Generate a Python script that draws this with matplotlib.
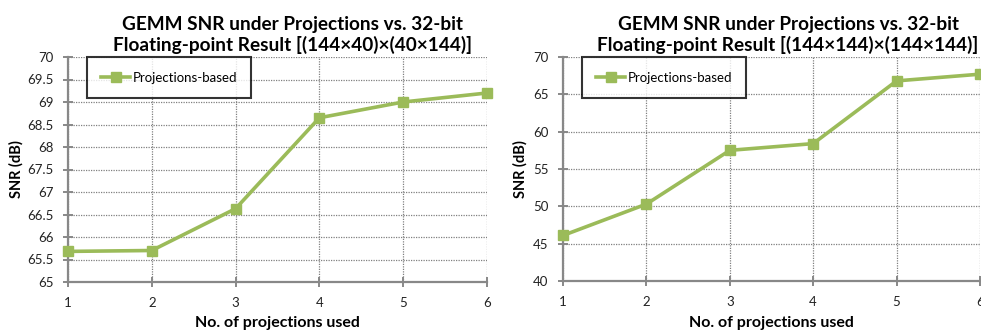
import matplotlib.pyplot as plt

plt.rcParams['font.family'] = ['Lato', 'DejaVu Sans']

projections = [1, 2, 3, 4, 5, 6]
snr_small = [65.68, 65.70, 66.63, 68.65, 69.0, 69.2]
snr_large = [46.1, 50.3, 57.5, 58.4, 66.8, 67.7]

titles = ["GEMM SNR under Projections vs. 32-bit\nFloating-point Result [(144×40)×(40×144)]",
          "GEMM SNR under Projections vs. 32-bit\nFloating-point Result [(144×144)×(144×144)]"]
green = "#9BBB59"

fig = plt.figure(figsize=(9.81, 3.31), dpi=100)
ax1 = fig.add_axes([68 / 981, 1 - 282 / 331, 419 / 981, 225 / 331])
ax2 = fig.add_axes([563 / 981, 1 - 281 / 331, 417 / 981, 224 / 331])

setups = [
    (ax1, snr_small, (65, 70), [65, 65.5, 66, 66.5, 67, 67.5, 68, 68.5, 69, 69.5, 70],
     ["65", "65.5", "66", "66.5", "67", "67.5", "68", "68.5", "69", "69.5", "70"],
     titles[0], 0.535, -0.107, -0.151),
    (ax2, snr_large, (40, 70), [40, 45, 50, 55, 60, 65, 70],
     ["40", "45", "50", "55", "60", "65", "70"], titles[1], 0.54, -0.084, -0.156),
]

for ax, vals, ylim, yt, ytl, title, tx, ylx, xly in setups:
    ax.plot(projections, vals, color=green, lw=2.6, marker="s", ms=7.5,
            label="Projections-based", clip_on=False, zorder=3)
    ax.set_xlim(1, 6)
    ax.set_ylim(*ylim)
    ax.set_xticks(projections)
    ax.set_yticks(yt)
    ax.set_yticklabels(ytl)
    ax.grid(True, color="#808080", ls=(0, (1, 1)), lw=0.9)
    for s in ["top", "right"]:
        ax.spines[s].set_visible(False)
    for s in ["left", "bottom"]:
        ax.spines[s].set_color("#888888")
        ax.spines[s].set_linewidth(1.6)
    ax.tick_params(direction="inout", length=7, width=1.4, color="#888888",
                   labelsize=9.5, pad=7, labelcolor="#222222")
    ax.set_xlabel("No. of projections used", fontsize=11.5, fontweight="bold")
    ax.xaxis.set_label_coords(0.5, xly)
    ax.set_ylabel("SNR (dB)", fontsize=10.5, fontweight="bold")
    ax.yaxis.set_label_coords(ylx, 0.5)
    ax.set_title(title, fontsize=13.7, fontweight="bold", pad=4, x=tx, linespacing=1.25)
    leg = ax.legend(loc="upper left", bbox_to_anchor=(0.045, 1.0), frameon=True,
                    fancybox=False, edgecolor="black", fontsize=9.5, borderpad=1.1,
                    handlelength=2.2, handletextpad=0.15, borderaxespad=0)
    leg.get_frame().set_linewidth(1.5)

fig.savefig("out.png", dpi=100)
